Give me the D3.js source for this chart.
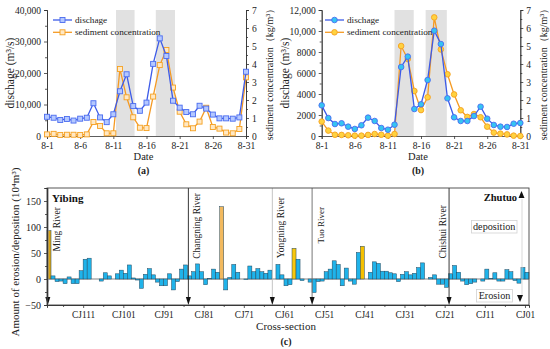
<!DOCTYPE html>
<html>
<head>
<meta charset="utf-8">
<script src="https://cdn.jsdelivr.net/npm/d3@7"></script>
<style>
	body { margin: 0; background: #fff; }
	svg { display: block; font-family: "Liberation Serif", "DejaVu Serif", serif; }
</style>
</head>
<body>
<svg id="fig" width="550" height="349"></svg>
<script>
// ---- panel (a) / (b): daily values in August
const days = d3.range(1, 32);
const dateTickDays = [1, 6, 11, 16, 21, 26, 31];
const dateLabels = ["8-1", "8-6", "8-11", "8-16", "8-21", "8-26", "8-31"];

const dischargeA = [6100, 5800, 5100, 5400, 4900, 5500, 5800, 10400, 5900, 4400,
	6900, 14200, 19600, 9500, 8000, 10600, 22900, 31000, 25400, 11200,
	9000, 7600, 6900, 9600, 8700, 6800, 5600, 5600, 5500, 5900, 20400];
const sedimentA = [0.09, 0.12, 0.06, 0.07, 0.07, 0.06, 0.09, 0.78, 0.56, 0.15,
	0.15, 3.72, 2.15, 1.04, 0.46, 0.44, 2.19, 3.94, 4.78, 2.69,
	1.35, 0.65, 0.43, 0.80, 1.57, 0.50, 0.41, 0.19, 0.15, 0.39, 3.26];
const shadeA = [[11.4, 14.2], [17.4, 20.3]];

const dischargeB = [2920, 1710, 1140, 1210, 890, 670, 1020, 1750, 1430, 760,
	600, 1080, 6570, 7560, 2570, 3020, 5330, 10030, 8760, 3590,
	1780, 1430, 1430, 1900, 2790, 1650, 1050, 890, 860, 1170, 1240];
const sedimentB = [0.80, 0.30, 0.07, 0.06, 0.04, 0.02, 0.02, 0.06, 0.11, 0.07,
	0.02, 0.11, 5.00, 4.28, 2.50, 1.44, 2.15, 6.59, 4.81, 3.43,
	2.31, 1.43, 1.06, 1.22, 1.04, 0.52, 0.19, 0.13, 0.09, 0.02, 0.00];
const shadeB = [[12, 14.9], [16.7, 19.9]];

// ---- panel (c): erosion(-)/deposition(+) per cross-section, CJ120 -> CJ01
const erosion = [
	93, 6, -5, -4, -9, 4, -9, -9, 16, 38,
	40, 0, 0, -4, 12, 6, 0, 10, 17, 11,
	27, 2, -2, -18, 9, 20, 8, -6, -13, -13,
	10, -21, -5, 19, 27, 6, 14, 29, 14, -11,
	1, 19, 13, 139, -21, 3, 28, 13, 0, -1,
	25, 14, 20, 14, 11, 17, 0, 28, 8, -13,
	-11, 59, 38, -3, 0, -6, -26, -5, -4, 14,
	19, 35, 28, -13, 21, -4, -10, 51, 63, 0,
	13, 33, 30, 15, 15, 12, 10, -5, 9, 14,
	8, 11, 22, 31, 0, 3, 8, -10, -10, -16,
	10, 26, 13, -4, -11, -9, -6, 0, -4, 19,
	1, 12, -4, -4, 18, 14, -3, -8, 22, 13
];
const firstSection = 120;
const cjTicks = [111, 101, 91, 81, 71, 61, 51, 41, 31, 21, 11, 1];
const cjLabels = ["CJ111", "CJ101", "CJ91", "CJ81", "CJ71", "CJ61", "CJ51", "CJ41", "CJ31", "CJ21", "CJ11", "CJ01"];
const cjMinor = [116, 106, 96, 86, 76, 66, 56, 46, 36, 26, 16, 6];
const tributaryBars = [120, 77, 59, 42];
const riverNames = ["Ming River", "Changning River", "Yongning River", "Tuo River", "Chishui River"];
const riverAt = [119.8, 84.8, 63.9, 54.0, 19.9];
const erosionTicks = [-50, 0, 50, 100, 150];

const svg = d3.select("#fig");
svg.append("rect").attr("width", 550).attr("height", 349).attr("fill", "#fff");

function styleAxis(g, size) {
	g.attr("font-family", null).attr("font-size", size);
	g.select(".domain").attr("stroke", "#333").attr("stroke-width", 0.8);
	g.selectAll(".tick line").attr("stroke", "#333").attr("stroke-width", 0.8);
	g.selectAll("text").attr("fill", "#222");
}

function drawPanel(p) {
	const g = svg.append("g");
	const x = d3.scaleLinear().domain([1, 31]).range([p.left, p.right]);
	const yQ = d3.scaleLinear().domain([0, p.qMax]).range([p.bottom, p.top]);
	const yS = d3.scaleLinear().domain([0, 7]).range([p.bottom, p.top]);

	// shaded flood periods
	g.selectAll("rect.shade").data(p.shade).enter().append("rect")
		.attr("x", d => x(d[0])).attr("width", d => x(d[1]) - x(d[0]))
		.attr("y", p.top).attr("height", p.bottom - p.top)
		.attr("fill", "#e1e1e1");

	// axes
	const fmt = d => d >= 10000 || p.comma ? d3.format(",")(d) : d;
	const ax = g.append("g").attr("transform", `translate(${p.left},0)`)
		.call(d3.axisLeft(yQ).tickValues(d3.range(0, p.qMax + 1, p.qStep)).tickSize(3).tickFormat(fmt));
	styleAxis(ax, 9.5);
	const axm = g.append("g").attr("transform", `translate(${p.left},0)`)
		.call(d3.axisLeft(yQ).tickValues(d3.range(p.qStep / 2, p.qMax, p.qStep)).tickSize(2).tickFormat(""));
	styleAxis(axm, 9.5);
	const ar = g.append("g").attr("transform", `translate(${p.right},0)`)
		.call(d3.axisRight(yS).tickValues(d3.range(0, 8)).tickSize(3).tickFormat(d3.format("d")));
	styleAxis(ar, 9.5);
	const arm = g.append("g").attr("transform", `translate(${p.right},0)`)
		.call(d3.axisRight(yS).tickValues(d3.range(0.5, 7, 1)).tickSize(2).tickFormat(""));
	styleAxis(arm, 9.5);
	const axb = g.append("g").attr("transform", `translate(0,${p.bottom})`)
		.call(d3.axisBottom(x).tickValues(dateTickDays).tickSize(3).tickFormat((d, i) => dateLabels[i]));
	styleAxis(axb, 9.5);

	// lines
	const lineQ = d3.line().x((d, i) => x(days[i])).y(d => yQ(d));
	const lineS = d3.line().x((d, i) => x(days[i])).y(d => yS(d));
	const series = [
		{ vals: p.sediment, y: yS, line: lineS, stroke: "#f59a23", fill: p.circle ? "#ffd23f" : "#ffe8c4", mstroke: "#f5a020" },
		{ vals: p.discharge, y: yQ, line: lineQ, stroke: "#3d5be8", fill: p.circle ? "#35c4f2" : "#b4c8ff", mstroke: "#4a6cf0" }
	];
	const drawMarker = (sel, s) => {
		if (p.circle) {
			sel.append("circle").attr("r", 2.8).attr("fill", s.fill).attr("stroke", s.mstroke).attr("stroke-width", 0.9);
		} else {
			sel.append("rect").attr("x", -2.5).attr("y", -2.5).attr("width", 5).attr("height", 5)
				.attr("fill", s.fill).attr("stroke", s.mstroke).attr("stroke-width", 0.9);
		}
	};
	series.forEach(s => {
		g.append("path").datum(s.vals).attr("d", s.line)
			.attr("fill", "none").attr("stroke", s.stroke).attr("stroke-width", 1.3);
		s.vals.forEach((v, i) => {
			const m = g.append("g").attr("transform", `translate(${x(days[i])},${s.y(v)})`);
			drawMarker(m, s);
		});
	});

	// legend
	const leg = [
		{ name: "dischage", s: series[1], y: 20 },
		{ name: "sediment concentration", s: series[0], y: 32.3 }
	];
	leg.forEach(l => {
		g.append("line").attr("x1", p.legX).attr("x2", p.legX + 19).attr("y1", l.y).attr("y2", l.y)
			.attr("stroke", l.s.stroke).attr("stroke-width", 1.3);
		drawMarker(g.append("g").attr("transform", `translate(${p.legX + 9.5},${l.y})`), l.s);
		g.append("text").attr("x", p.legX + 22).attr("y", l.y).attr("dy", "0.33em")
			.attr("font-size", 9.2).attr("fill", "#222").text(l.name);
	});

	// titles
	g.append("text").attr("transform", `translate(${p.left - 33},73) rotate(-90)`)
		.attr("text-anchor", "middle").attr("font-size", 11.5).attr("fill", "#222")
		.text("dischage (m³/s)");
	g.append("text").attr("transform", `translate(${p.right + 27},72) rotate(-90)`)
		.attr("text-anchor", "middle").attr("font-size", 10).attr("fill", "#222")
		.text("sediment concentration（kg/m³）");
	g.append("text").attr("x", (p.left + p.right) / 2 - 3).attr("y", 160)
		.attr("text-anchor", "middle").attr("font-size", 10.5).attr("fill", "#222").text("Date");
	g.append("text").attr("x", (p.left + p.right) / 2 - 3).attr("y", 174)
		.attr("text-anchor", "middle").attr("font-size", 10).attr("font-weight", "bold").attr("fill", "#222").text(p.tag);
}

drawPanel({ left: 47, right: 246, top: 10, bottom: 136, qMax: 40000, qStep: 10000, comma: true,
	discharge: dischargeA, sediment: sedimentA, shade: shadeA, circle: false, legX: 53, tag: "(a)" });
drawPanel({ left: 321.7, right: 520.3, top: 10, bottom: 136, qMax: 12000, qStep: 2000, comma: false,
	discharge: dischargeB, sediment: sedimentB, shade: shadeB, circle: true, legX: 325, tag: "(b)" });

// ---- panel (c)
const C = { left: 47, right: 529, top: 188, bottom: 305 };
const gc = svg.append("g");
const xc = d3.scaleLinear().domain([firstSection, 0]).range([C.left, C.right]);
const yc = d3.scaleLinear().domain([-50, 175]).range([C.bottom, C.top]);
const sectionOf = i => firstSection - i;
const tribColor = d3.scaleOrdinal().domain(tributaryBars).range(["#d8a416", "#f2b95e", "#f8c70c", "#f5c000"]);

gc.append("line").attr("x1", C.left).attr("x2", C.right).attr("y1", yc(0)).attr("y2", yc(0))
	.attr("stroke", "#333").attr("stroke-width", 0.6);

gc.selectAll("rect.bar").data(erosion).enter().append("rect")
	.attr("x", (d, i) => xc(sectionOf(i)))
	.attr("width", (d, i) => xc(sectionOf(i) - 1) - xc(sectionOf(i)))
	.attr("y", d => yc(Math.max(0, d)))
	.attr("height", d => Math.abs(yc(d) - yc(0)))
	.attr("fill", (d, i) => tributaryBars.includes(sectionOf(i)) ? tribColor(sectionOf(i)) : "#1fb3ea")
	.attr("stroke", "#24485e").attr("stroke-width", 0.5);

// tributary confluence lines with arrows
const riverStyle = [
	{ stroke: "#8a8a8a", w: 1.6, side: 1 },
	{ stroke: "#222", w: 0.9, side: 1 },
	{ stroke: "#b5b5b5", w: 0.8, side: 1 },
	{ stroke: "#777", w: 1.0, side: 1 },
	{ stroke: "#222", w: 0.9, side: -1 }
];
const riverTop = [207, 193, 197, 207, 205];
riverNames.forEach((name, i) => {
	const rx = xc(riverAt[i]);
	const st = riverStyle[i];
	gc.append("line").attr("x1", rx).attr("x2", rx).attr("y1", C.top).attr("y2", C.bottom - 6)
		.attr("stroke", st.stroke).attr("stroke-width", st.w);
	gc.append("path").attr("d", `M${rx - 2.5},${C.bottom - 8}L${rx + 2.5},${C.bottom - 8}L${rx},${C.bottom}Z`)
		.attr("fill", "#111");
	const tx = st.side > 0 ? rx + 12 : rx - 3.5;
	gc.append("text").attr("transform", `translate(${tx},${riverTop[i]}) rotate(-90)`)
		.attr("text-anchor", "end").attr("font-size", i === 3 ? 9 : 9.6).attr("fill", "#222").text(name);
});

// frame and axes
gc.append("rect").attr("x", C.left).attr("y", C.top).attr("width", C.right - C.left).attr("height", C.bottom - C.top)
	.attr("fill", "none").attr("stroke", "#444").attr("stroke-width", 0.9);
const cy = gc.append("g").attr("transform", `translate(${C.left},0)`)
	.call(d3.axisLeft(yc).tickValues(erosionTicks).tickSize(3).tickFormat(d => d < 0 ? "\u2212" + Math.abs(d) : d));
styleAxis(cy, 10);
const cym = gc.append("g").attr("transform", `translate(${C.left},0)`)
	.call(d3.axisLeft(yc).tickValues([-25, 25, 75, 125, 175]).tickSize(2).tickFormat(""));
styleAxis(cym, 10);
const cx = gc.append("g").attr("transform", `translate(0,${C.bottom})`)
	.call(d3.axisBottom(xc).tickValues(cjTicks).tickSize(3).tickFormat((d, i) => cjLabels[i]));
styleAxis(cx, 9.3);
const cxm = gc.append("g").attr("transform", `translate(0,${C.bottom})`)
	.call(d3.axisBottom(xc).tickValues(cjMinor).tickSize(2).tickFormat(""));
styleAxis(cxm, 9.3);

gc.append("text").attr("transform", "translate(19,252) rotate(-90)").attr("text-anchor", "middle")
	.attr("font-size", 11).attr("fill", "#222").text("Amount of erosion/deposition (10⁴m³)");
gc.append("text").attr("x", 286).attr("y", 330).attr("text-anchor", "middle")
	.attr("font-size", 11).attr("fill", "#222").text("Cross-section");
gc.append("text").attr("x", 286).attr("y", 345).attr("text-anchor", "middle")
	.attr("font-size", 10).attr("font-weight", "bold").attr("fill", "#222").text("(c)");

// end labels
gc.append("text").attr("x", 52).attr("y", 201.5).attr("font-size", 11).attr("font-weight", "bold")
	.attr("fill", "#111").text("Yibing");
gc.append("text").attr("x", 517).attr("y", 201).attr("text-anchor", "end").attr("font-size", 10.5)
	.attr("font-weight", "bold").attr("fill", "#111").text("Zhutuo");
gc.append("line").attr("x1", 522).attr("x2", 522).attr("y1", 199).attr("y2", 295)
	.attr("stroke", "#cfcfcf").attr("stroke-width", 0.8);
gc.append("path").attr("d", "M518.5,198L524.5,198L521.5,191Z").attr("fill", "#111");
gc.append("path").attr("d", "M517,295L523,295L520,302Z").attr("fill", "#111");
[["deposition", 471.5, 220.5, 45.5], ["Erosion", 476.5, 289.5, 36]].forEach(b => {
	gc.append("rect").attr("x", b[1]).attr("y", b[2]).attr("width", b[3]).attr("height", 12.5)
		.attr("fill", "#fff").attr("stroke", "#d2d2d2").attr("stroke-width", 0.8);
	gc.append("text").attr("x", b[1] + b[3] / 2).attr("y", b[2] + 9.6).attr("text-anchor", "middle")
		.attr("font-size", 10.2).attr("fill", "#222").text(b[0]);
});
</script>
</body>
</html>
